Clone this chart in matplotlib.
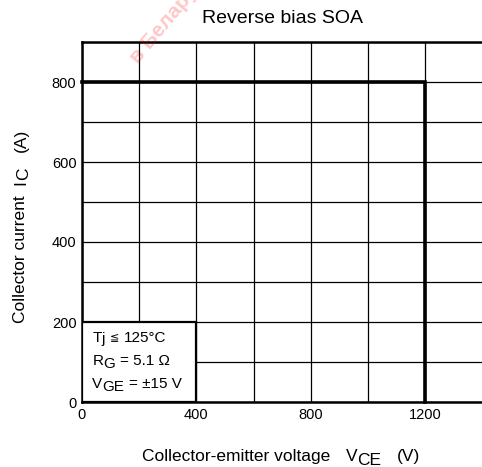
import matplotlib

matplotlib.use("Agg")
import matplotlib.pyplot as plt
from matplotlib.patches import Rectangle

plt.rcParams.update(
    {
        "font.family": ["Liberation Sans", "DejaVu Sans"],
        "font.size": 10,
    }
)

# Reverse-bias safe operating area boundary
VCE_LIMIT = [0, 1200, 1200]
IC_LIMIT = [800, 800, 0]

X_TICKS = [0, 400, 800, 1200]
X_GRID = [200, 600, 1000, 1400]
Y_TICKS = [0, 200, 400, 600, 800]
Y_GRID = [100, 300, 500, 700, 900]

# test conditions: (text, gap before, baseline shift, font size) in points
CONDITIONS = [
    [("T", 0, 0, 11), ("j", 0.0, -0.6, 11), ("≦", 3.5, 2.2, 8), ("125°C", 3.5, 0, 11)],
    [("R", 0, 0, 11), ("G", 0.2, -2.4, 11), ("= 5.1 Ω", 3.5, 0, 11)],
    [("V", 0, 0, 11), ("GE", 0.2, -2.4, 11), ("= ±15 V", 3.5, 0, 11)],
]
XLABEL = [("Collector-emitter voltage", 0, 0), ("V", 11, 0), ("CE", 0, -2.6), ("(V)", 11, 0)]
YLABEL = [("Collector current", 0, 0), ("I", 7.5, 0), ("C", 0, 2.2), ("(A)", 11, 0)]


def chain(ax, first, parts, size=None, vertical=False, **kw):
    """Lay out text pieces one after another, each with its own baseline shift."""
    prev, prev_shift = first, 0
    for text, gap, shift, *rest in parts:
        fs = rest[0] if rest else size
        if vertical:
            offset, xy, extra = (shift - prev_shift, gap), (0, 1), {"rotation": 90}
        else:
            offset, xy, extra = (gap, shift - prev_shift), (1, 0), {}
        fam = ["DejaVu Sans"] if text == "≦" else None
        prev = ax.annotate(text, xy=xy, xycoords=prev, xytext=offset,
                           textcoords="offset points", ha="left", va="bottom",
                           fontsize=fs, family=fam, annotation_clip=False, **extra, **kw)
        prev_shift = shift
    return prev


W, H = 482, 467
fig = plt.figure(figsize=(W / 100, H / 100), dpi=100)
ax = fig.add_axes([82 / W, 1 - 402 / H, 400.5 / W, 360 / H])

ax.set_xlim(0, 1400)
ax.set_ylim(0, 900)
ax.set_xticks(X_TICKS)
ax.set_xticks(X_GRID, minor=True)
ax.set_yticks(Y_TICKS)
ax.set_yticks(Y_GRID, minor=True)
ax.tick_params(which="both", length=0, labelsize=10.5, pad=4)
ax.grid(which="both", color="black", linewidth=0.9)
ax.set_axisbelow(True)
for spine in ax.spines.values():
    spine.set_linewidth(1.8)

ax.plot(VCE_LIMIT, IC_LIMIT, color="black", linewidth=2.6, zorder=4,
        solid_joinstyle="miter", clip_on=False)

# condition box in lower-left corner
ax.add_patch(Rectangle((0, 0), 400, 200, facecolor="white", edgecolor="black",
                       linewidth=1.6, zorder=3))
for i, line in enumerate(CONDITIONS):
    text, _, _, fs = line[0]
    first = ax.text(36, 150 - i * 57.5, text, fontsize=fs, ha="left", va="baseline", zorder=5)
    chain(ax, first, line[1:], zorder=5)

ax.set_title("Reverse bias SOA", fontsize=14, pad=13.5)

xl = fig.text(142 / W, 1 - 461 / H, XLABEL[0][0], fontsize=12.5, ha="left", va="baseline")
chain(ax, xl, XLABEL[1:], size=12.5)
yl = fig.text(28.5 / W, 1 - 323 / H, YLABEL[0][0], fontsize=12.5, rotation=90,
              ha="right", va="bottom")
chain(ax, yl, YLABEL[1:], size=12.5, vertical=True)

fig.text(138 / W, 1 - 64 / H, "в Беларуси", color="red", alpha=0.22, fontsize=15,
         fontweight="bold", rotation=50, rotation_mode="anchor", ha="left", va="baseline")

fig.savefig("out.png", dpi=100)
